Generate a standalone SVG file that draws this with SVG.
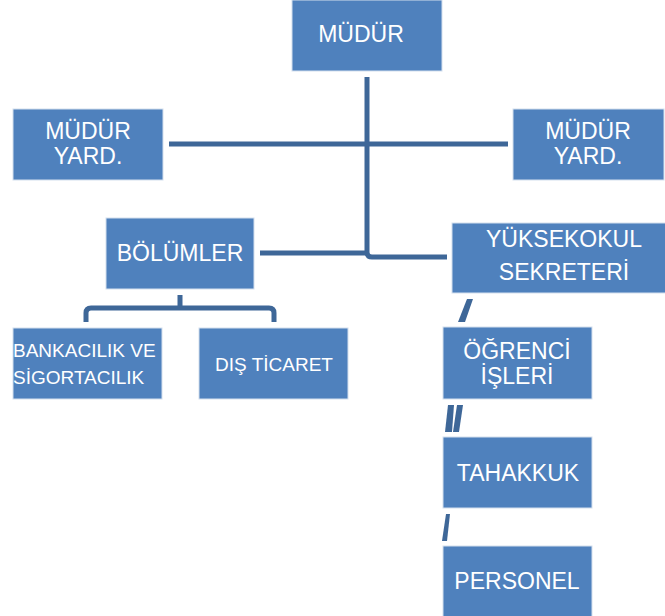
<svg xmlns="http://www.w3.org/2000/svg" width="665" height="616" viewBox="0 0 665 616">
<style>
.box{fill:#4F81BD;stroke:#d4dfee;stroke-width:1}
.t{fill:#ffffff;font-family:"Liberation Sans",Arial,sans-serif;font-size:23px}
.s{font-size:19px}
.ln{fill:none;stroke:#3E6798;stroke-width:5;stroke-linejoin:round}
.mk{fill:#3E6798}
</style>
<rect width="665" height="616" fill="#ffffff"/>
<g id="connectors">
<path class="ln" d="M367 77 V252 Q367 257 372 257 H447"/>
<path class="ln" d="M260 253 H367"/>
<path class="ln" d="M169 144 H508"/>
<path class="ln" d="M180 295 V308 M86 322 V313 Q86 308 91 308 H269 Q274 308 274 313 V322"/>
<polygon class="mk" points="467,299 473,299 465,322 458,322"/>
<polygon class="mk" points="448,405 454,405 452,432 445,432"/>
<polygon class="mk" points="457,405 463,405 459,432 453,432"/>
<polygon class="mk" points="446,514 450,514 447,541 442,541"/>
</g>
<g id="mudur">
<rect class="box" x="292" y="0" width="150" height="71"/>
<text class="t" x="361" y="42" text-anchor="middle">MÜDÜR</text>
</g>
<g id="mudur-yard-left">
<rect class="box" x="13" y="109" width="150" height="71"/>
<text class="t" x="88" y="139" text-anchor="middle">MÜDÜR</text>
<text class="t" x="88" y="164" text-anchor="middle">YARD.</text>
</g>
<g id="mudur-yard-right">
<rect class="box" x="513" y="109" width="151" height="71"/>
<text class="t" x="588" y="139" text-anchor="middle">MÜDÜR</text>
<text class="t" x="588" y="164" text-anchor="middle">YARD.</text>
</g>
<g id="bolumler">
<rect class="box" x="106" y="218" width="148" height="71"/>
<text class="t" x="180" y="261" text-anchor="middle">BÖLÜMLER</text>
</g>
<g id="yuksekokul-sekreteri">
<rect class="box" x="452" y="223" width="214" height="70"/>
<text class="t" x="564" y="247" text-anchor="middle">YÜKSEKOKUL</text>
<text class="t" x="564" y="280" text-anchor="middle">SEKRETERİ</text>
</g>
<g id="bankacilik">
<rect class="box" x="13" y="328" width="149" height="71"/>
<text class="t s" x="13" y="357">BANKACILIK VE</text>
<text class="t s" x="13" y="384">SİGORTACILIK</text>
</g>
<g id="dis-ticaret">
<rect class="box" x="199" y="328" width="149" height="71"/>
<text class="t s" x="274" y="371" text-anchor="middle">DIŞ TİCARET</text>
</g>
<g id="ogrenci-isleri">
<rect class="box" x="443" y="327" width="149" height="72"/>
<text class="t" x="517" y="359" text-anchor="middle">ÖĞRENCİ</text>
<text class="t" x="517" y="384" text-anchor="middle">İŞLERİ</text>
</g>
<g id="tahakkuk">
<rect class="box" x="443" y="437" width="149" height="71"/>
<text class="t" x="518" y="481" text-anchor="middle">TAHAKKUK</text>
</g>
<g id="personel">
<rect class="box" x="443" y="546" width="149" height="72"/>
<text class="t" x="517" y="589" text-anchor="middle">PERSONEL</text>
</g>
</svg>
